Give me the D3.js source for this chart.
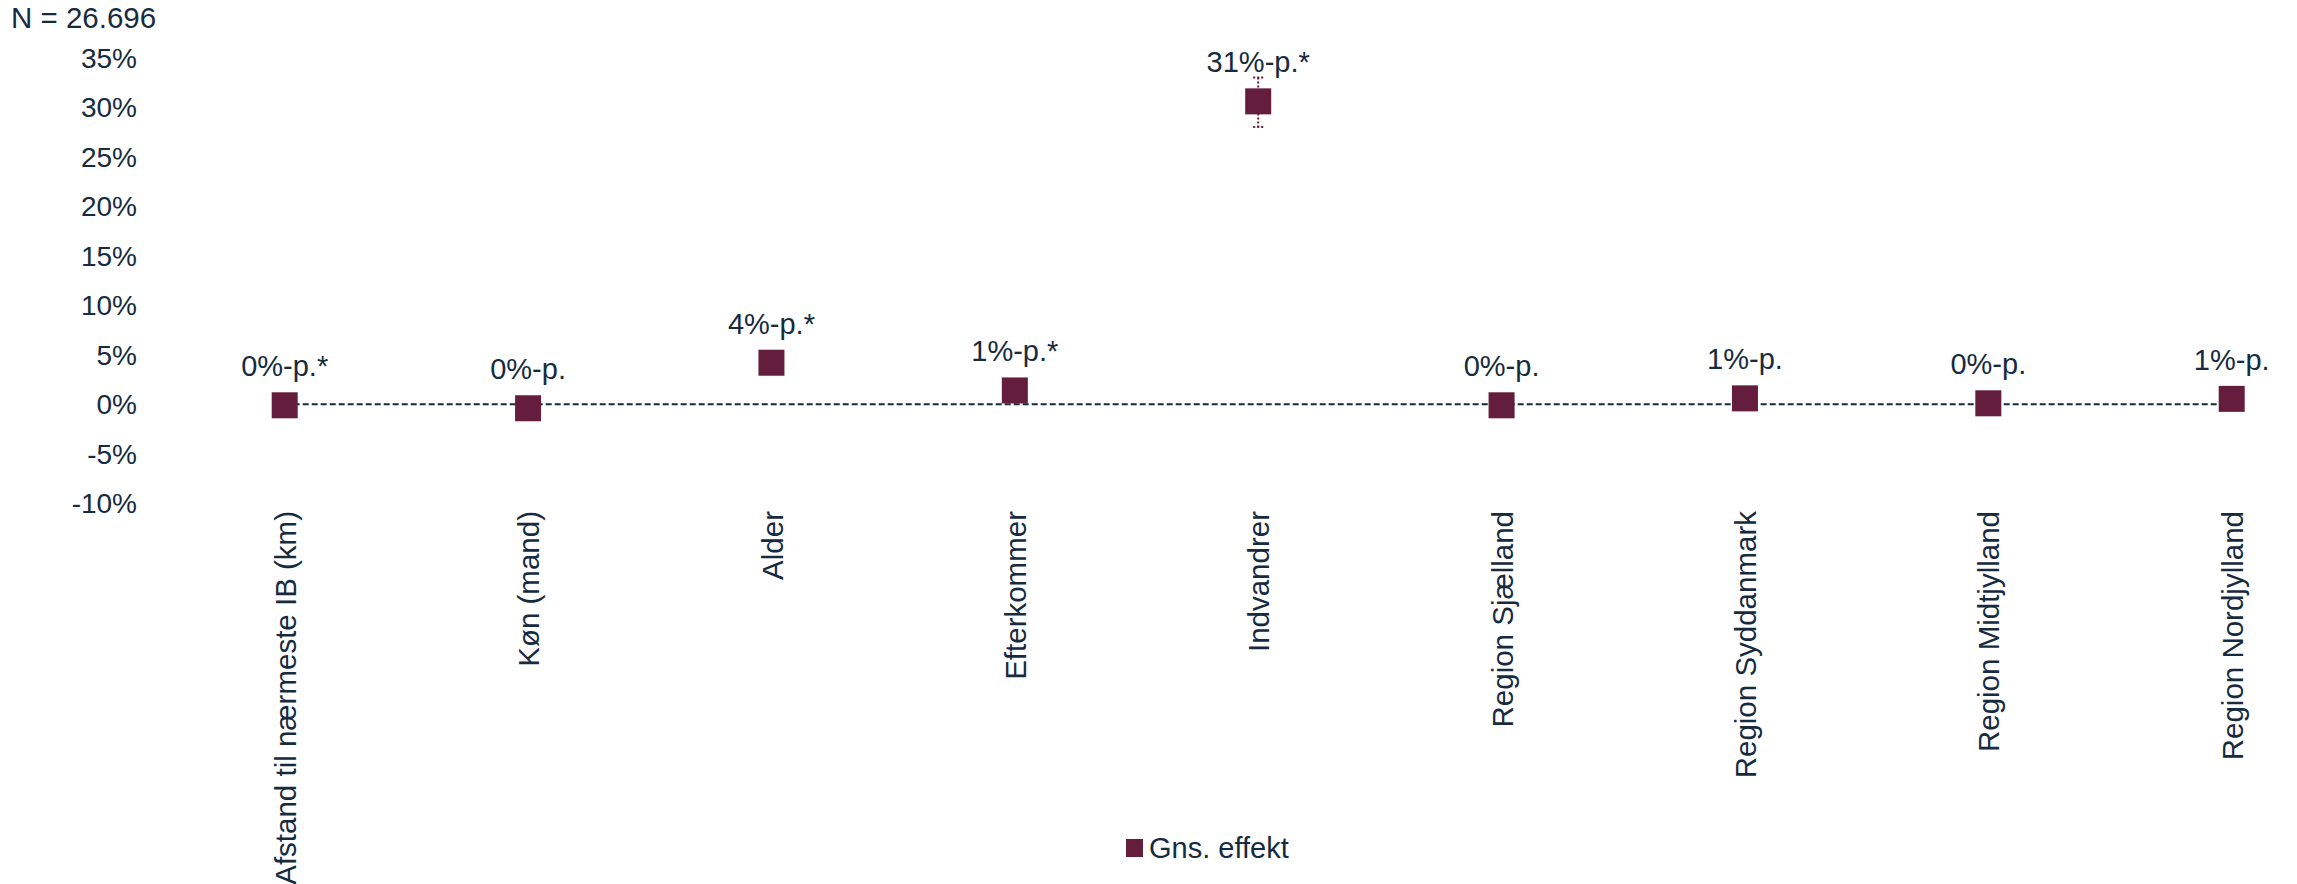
<!DOCTYPE html>
<html>
<head>
<meta charset="utf-8">
<script src="https://cdn.jsdelivr.net/npm/d3@7"></script>
<style>
  html, body { margin: 0; padding: 0; background: #ffffff; }
  svg { display: block; }
  text { font-family: "Liberation Sans", Arial, sans-serif; fill: #172b3f; }
</style>
</head>
<body>
<svg id="chart" width="2297" height="884"></svg>
<script>
// ---- data ----
const categories = [
  "Afstand til nærmeste IB (km)",
  "Køn (mand)",
  "Alder",
  "Efterkommer",
  "Indvandrer",
  "Region Sjælland",
  "Region Syddanmark",
  "Region Midtjylland",
  "Region Nordjylland"
];
const effects = [-0.1, -0.4, 4.2, 1.4, 30.6, -0.1, 0.6, 0.1, 0.55];
const ciLow  = [null, null, null, null, 28.0, null, null, null, null];
const ciHigh = [null, null, null, null, 33.0, null, null, null, null];
const pointLabels = ["0%-p.*", "0%-p.", "4%-p.*", "1%-p.*", "31%-p.*", "0%-p.", "1%-p.", "0%-p.", "1%-p."];
const yTicks = [-10, -5, 0, 5, 10, 15, 20, 25, 30, 35];
const seriesName = "Gns. effekt";
const nLabel = "N = 26.696";

// ---- layout ----
const maroon = "#641d3c";
const ink = "#172b3f";
const svg = d3.select("#chart");

const x = d3.scalePoint().domain(categories).range([284.7, 2231.7]);
const y = d3.scaleLinear().domain([-10, 35]).range([503.3, 57.8]);

// y axis (labels only)
const yAxis = d3.axisLeft(y)
  .tickValues(yTicks)
  .tickFormat(d => d + "%")
  .tickSize(0)
  .tickPadding(0);
const gy = svg.append("g").attr("transform", "translate(137,0)").call(yAxis);
gy.select(".domain").remove();
gy.selectAll("text")
  .style("font-family", "'Liberation Sans', Arial, sans-serif")
  .style("font-size", "28px")
  .attr("fill", ink)
  .attr("dy", "0.34em");

// x axis (rotated labels only)
const xAxis = d3.axisBottom(x).tickSize(0).tickPadding(0);
const gx = svg.append("g").attr("transform", "translate(0,511)").call(xAxis);
gx.select(".domain").remove();
gx.selectAll("text")
  .style("font-family", "'Liberation Sans', Arial, sans-serif")
  .style("font-size", "29.5px")
  .attr("fill", ink)
  .attr("text-anchor", "end")
  .attr("transform", "rotate(-90)")
  .attr("x", 0)
  .attr("y", 0)
  .attr("dy", "0.36em");

// zero reference line (dashed) from first to last category
const zeroLine = d3.line().x(d => x(d)).y(() => y(0));
svg.append("path")
  .datum([categories[0], categories[categories.length - 1]])
  .attr("d", zeroLine)
  .attr("fill", "none")
  .attr("stroke", ink)
  .attr("stroke-width", 2)
  .attr("stroke-dasharray", "6,3");

// error bars
const errData = categories.map((c, i) => ({c, lo: ciLow[i], hi: ciHigh[i], v: effects[i]}))
  .filter(d => d.lo !== null && d.hi !== null);
const eb = svg.append("g");
errData.forEach(d => {
  const cx = x(d.c);
  eb.append("line").attr("x1", cx).attr("x2", cx).attr("y1", y(d.hi)).attr("y2", y(d.lo))
    .attr("stroke", maroon).attr("stroke-width", 2).attr("stroke-dasharray", "2,2");
  [d.hi, d.lo].forEach(v => {
    eb.append("line").attr("x1", cx - 5).attr("x2", cx + 5).attr("y1", y(v)).attr("y2", y(v))
      .attr("stroke", maroon).attr("stroke-width", 2).attr("stroke-dasharray", "2,2");
  });
});

// markers
const size = 26;
svg.append("g").selectAll("rect")
  .data(categories.map((c, i) => ({c, v: effects[i]})))
  .join("rect")
  .attr("x", d => x(d.c) - size / 2)
  .attr("y", d => y(d.v) - size / 2)
  .attr("width", size)
  .attr("height", size)
  .attr("fill", maroon);

// data labels
svg.append("g").selectAll("text")
  .data(categories.map((c, i) => ({c, v: effects[i], t: pointLabels[i]})))
  .join("text")
  .attr("x", d => x(d.c))
  .attr("y", d => y(d.v) - 29)
  .attr("text-anchor", "middle")
  .style("font-size", "29px")
  .text(d => d.t);

// N label
svg.append("text")
  .attr("x", 11).attr("y", 28)
  .style("font-size", "29.5px")
  .text(nLabel);

// legend
svg.append("rect")
  .attr("x", 1126).attr("y", 839).attr("width", 17).attr("height", 18)
  .attr("fill", maroon);
svg.append("text")
  .attr("x", 1149).attr("y", 858)
  .style("font-size", "29px")
  .text(seriesName);
</script>
</body>
</html>
